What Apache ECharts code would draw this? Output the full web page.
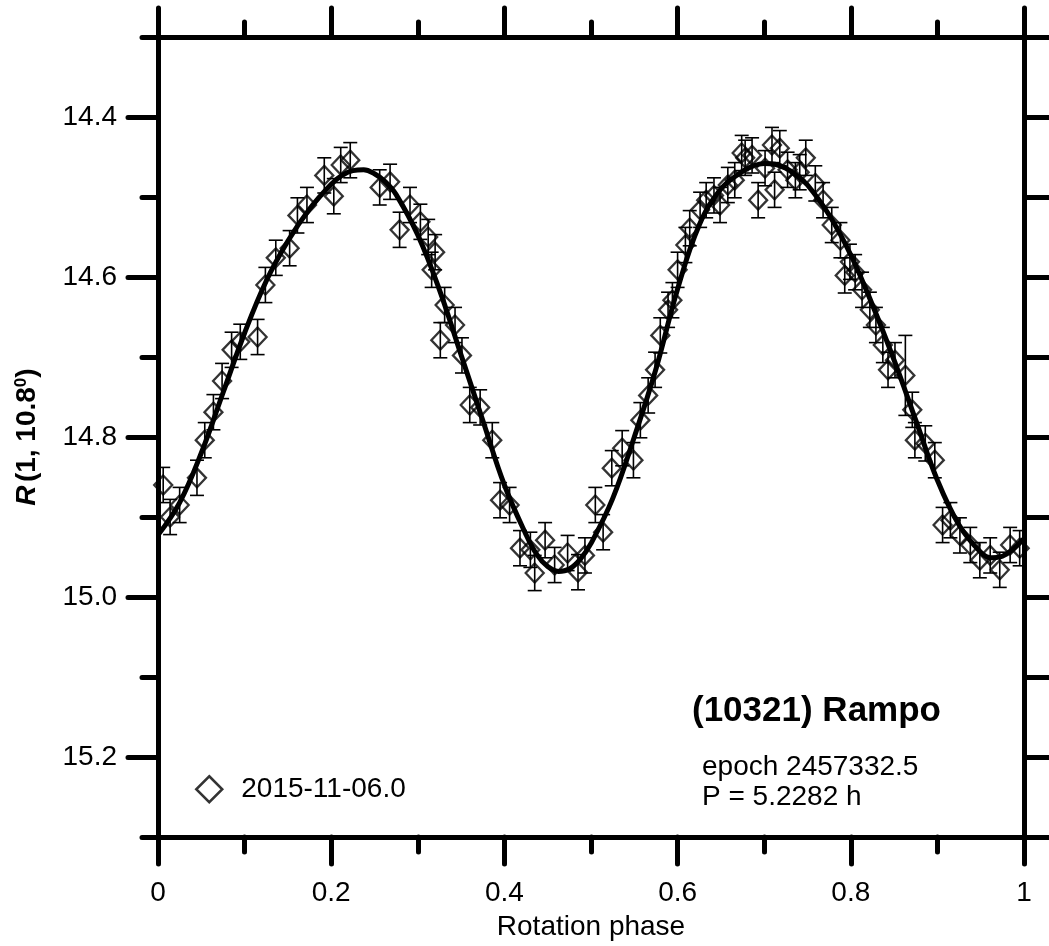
<!DOCTYPE html>
<html><head><meta charset="utf-8">
<script src="https://cdn.jsdelivr.net/npm/echarts@6/dist/echarts.min.js"></script>
<style>html,body{margin:0;padding:0;background:#fff}#c{width:1049px;height:946px}</style>
</head><body><div id="c"></div>
<script>
// Observed data points: rotation phase and reduced magnitude
const phases = [0.006,0.014,0.025,0.045,0.054,0.064,0.074,0.085,0.095,0.115,0.124,0.136,0.152,0.161,0.172,0.192,0.203,0.211,0.222,0.256,0.268,0.279,0.291,0.303,0.312,0.320,0.316,0.331,0.326,0.343,0.351,0.360,0.372,0.386,0.395,0.406,0.418,0.430,0.447,0.435,0.458,0.473,0.485,0.493,0.505,0.514,0.524,0.536,0.549,0.557,0.566,0.574,0.580,0.589,0.594,0.600,0.609,0.614,0.626,0.633,0.642,0.649,0.658,0.666,0.674,0.678,0.686,0.693,0.701,0.709,0.718,0.712,0.727,0.736,0.741,0.748,0.759,0.768,0.778,0.788,0.793,0.799,0.805,0.813,0.822,0.829,0.837,0.843,0.851,0.863,0.871,0.874,0.886,0.897,0.906,0.915,0.926,0.938,0.949,0.961,0.972,0.984,0.995];
const mags = [14.860,14.900,14.885,14.851,14.804,14.769,14.730,14.691,14.681,14.675,14.610,14.576,14.564,14.523,14.510,14.473,14.499,14.460,14.454,14.488,14.481,14.541,14.510,14.531,14.550,14.569,14.591,14.635,14.679,14.660,14.698,14.760,14.763,14.804,14.879,14.885,14.939,14.941,14.929,14.970,14.960,14.945,14.969,14.948,14.885,14.919,14.839,14.814,14.829,14.779,14.748,14.716,14.673,14.641,14.629,14.591,14.560,14.539,14.516,14.504,14.498,14.510,14.485,14.479,14.445,14.451,14.448,14.504,14.464,14.435,14.439,14.491,14.466,14.479,14.469,14.451,14.483,14.504,14.535,14.554,14.598,14.581,14.594,14.616,14.641,14.660,14.685,14.716,14.704,14.723,14.766,14.804,14.808,14.829,14.910,14.904,14.923,14.935,14.954,14.948,14.966,14.935,14.939];
const errs = [0.022,0.022,0.022,0.022,0.022,0.022,0.022,0.022,0.022,0.022,0.022,0.022,0.022,0.022,0.022,0.022,0.022,0.022,0.022,0.022,0.022,0.022,0.022,0.022,0.022,0.022,0.022,0.022,0.022,0.022,0.022,0.022,0.022,0.022,0.022,0.022,0.022,0.022,0.022,0.022,0.022,0.022,0.022,0.022,0.022,0.022,0.022,0.022,0.022,0.022,0.022,0.022,0.022,0.022,0.022,0.022,0.022,0.022,0.022,0.022,0.022,0.022,0.022,0.022,0.022,0.022,0.022,0.022,0.022,0.022,0.022,0.022,0.022,0.022,0.022,0.022,0.022,0.022,0.022,0.022,0.022,0.022,0.022,0.022,0.022,0.022,0.022,0.022,0.022,0.050,0.022,0.022,0.022,0.022,0.022,0.022,0.022,0.022,0.022,0.022,0.022,0.022,0.022];
// Fitted lightcurve
const fitPhase = [0,0.025,0.05,0.075,0.1,0.125,0.15,0.175,0.2,0.2125,0.225,0.2375,0.25,0.2625,0.275,0.3,0.325,0.35,0.375,0.4,0.425,0.4375,0.45,0.4625,0.475,0.4875,0.5,0.525,0.55,0.575,0.6,0.625,0.65,0.675,0.6875,0.7,0.7125,0.725,0.7375,0.75,0.775,0.8,0.825,0.85,0.875,0.9,0.925,0.95,0.9625,0.975,0.9875,1.0];
const fitMag = [14.9225,14.882,14.82,14.745,14.67,14.605,14.555,14.515,14.484,14.473,14.467,14.466,14.471,14.481,14.497,14.5475,14.616,14.6975,14.779,14.86,14.922,14.947,14.962,14.968,14.965,14.953,14.933,14.877,14.80,14.715,14.615,14.535,14.49,14.468,14.461,14.458,14.459,14.464,14.473,14.485,14.5225,14.5725,14.635,14.704,14.779,14.854,14.91,14.944,14.951,14.949,14.94,14.927];
const yMajor = [14.4,14.6,14.8,15.0,15.2];
const yMinor = [14.3,14.5,14.7,14.9,15.1,15.3];
const legendName = '2015-11-06.0';

const FONT = 'Arial, "Liberation Sans", sans-serif';
const pts = phases.map((p,i)=>[p,mags[i]]);
const ebars = phases.map((p,i)=>[p,mags[i]-errs[i],mags[i]+errs[i]]);
const fit = fitPhase.map((p,i)=>[p,fitMag[i]]);

const chart = echarts.init(document.getElementById('c'), null, {renderer:'canvas'});
const axLine = {show:true, lineStyle:{color:'#000', width:5, cap:'round'}};
const xBase = {type:'value', min:0, max:1, interval:0.2, splitLine:{show:false}};
const yBase = {type:'value', min:14.3, max:15.3, inverse:true, splitLine:{show:false}};
chart.setOption({
  animation:false,
  backgroundColor:'#fff',
  grid:{left:158, top:37, width:866, height:800, containLabel:false, outerBoundsMode:'none'},
  xAxis:[
    Object.assign({}, xBase, {position:'bottom', axisLine:axLine,
      axisTick:{show:true, inside:false, length:27, lineStyle:{color:'#000', width:5, cap:'round'}},
      minorTick:{show:true, splitNumber:2, length:15, lineStyle:{color:'#000', width:5, cap:'round'}},
      axisLabel:{show:true, margin:42, fontSize:28, color:'#000', fontFamily:FONT},
      name:'Rotation phase', nameLocation:'middle', nameGap:76,
      nameTextStyle:{fontSize:28, color:'#000', fontFamily:FONT}}),
    Object.assign({}, xBase, {position:'top', axisLine:axLine,
      axisTick:{show:true, inside:false, length:29, lineStyle:{color:'#000', width:5, cap:'round'}},
      minorTick:{show:true, splitNumber:2, length:15, lineStyle:{color:'#000', width:5, cap:'round'}},
      axisLabel:{show:false}})
  ],
  yAxis:[
    Object.assign({}, yBase, {position:'left', axisLine:axLine,
      axisTick:{show:true, inside:false, length:30, customValues:yMajor, lineStyle:{color:'#000', width:5, cap:'round'}},
      axisLabel:{show:true, customValues:yMajor, margin:41, fontSize:28, color:'#000', fontFamily:FONT,
        formatter:v=>v.toFixed(1)},
      name:'{i|R} {b|(1, 10.8}{s|0}{b|)}', nameLocation:'middle', nameGap:116, nameRotate:90,
      nameTextStyle:{rich:{
        i:{fontSize:28, fontWeight:'bold', fontStyle:'italic', fontFamily:FONT, color:'#000'},
        b:{fontSize:28, fontWeight:'bold', fontFamily:FONT, color:'#000'},
        s:{fontSize:17, fontWeight:'bold', fontFamily:FONT, color:'#000', verticalAlign:'top', padding:[0,0,12,0]}
      }}}),
    Object.assign({}, yBase, {position:'left', axisLine:{show:false},
      axisTick:{show:true, inside:false, length:16, customValues:yMinor, lineStyle:{color:'#000', width:5, cap:'round'}},
      axisLabel:{show:false}}),
    Object.assign({}, yBase, {position:'right', axisLine:axLine,
      axisTick:{show:true, inside:false, length:28, customValues:yMajor.concat(yMinor), lineStyle:{color:'#000', width:5}},
      axisLabel:{show:false}})
  ],
  legend:{show:true, left:190, top:770, orient:'vertical', itemWidth:26, itemHeight:26, itemGap:10,
    textStyle:{fontSize:28, color:'#000', fontFamily:FONT, padding:[0,0,0,14]},
    itemStyle:{borderWidth:2.5},
    data:[legendName]},
  graphic:[
    {type:'text', left:692, top:694, style:{text:'(10321) Rampo', font:'bold 35px Arial, "Liberation Sans", sans-serif', fill:'#000'}},
    {type:'text', left:702, top:753, style:{text:'epoch 2457332.5', font:'28px Arial, "Liberation Sans", sans-serif', fill:'#000'}},
    {type:'text', left:702, top:783, style:{text:'P = 5.2282 h', font:'28px Arial, "Liberation Sans", sans-serif', fill:'#000'}}
  ],
  series:[
    {type:'custom', name:'errors', xAxisIndex:0, yAxisIndex:0, data:ebars, z:2, silent:true,
      renderItem:function(params, api){
        const x = api.value(0);
        const top = api.coord([x, api.value(1)]);
        const bot = api.coord([x, api.value(2)]);
        const hw = 7;
        const st = {stroke:'#000', lineWidth:1.6};
        return {type:'group', children:[
          {type:'line', shape:{x1:top[0], y1:top[1], x2:bot[0], y2:bot[1]}, style:st},
          {type:'line', shape:{x1:top[0]-hw, y1:top[1], x2:top[0]+hw, y2:top[1]}, style:st},
          {type:'line', shape:{x1:bot[0]-hw, y1:bot[1], x2:bot[0]+hw, y2:bot[1]}, style:st}
        ]};
      }},
    {type:'scatter', name:legendName, xAxisIndex:0, yAxisIndex:0, data:pts, symbol:'diamond', symbolSize:[18,19], z:3,
      itemStyle:{color:'rgba(0,0,0,0)', borderColor:'#000', borderWidth:2.3}},
    {type:'line', name:'fit', xAxisIndex:0, yAxisIndex:0, data:fit, smooth:0.4, showSymbol:false, symbol:'none', z:4,
      lineStyle:{color:'#000', width:5}}
  ]
});
</script></body></html>
